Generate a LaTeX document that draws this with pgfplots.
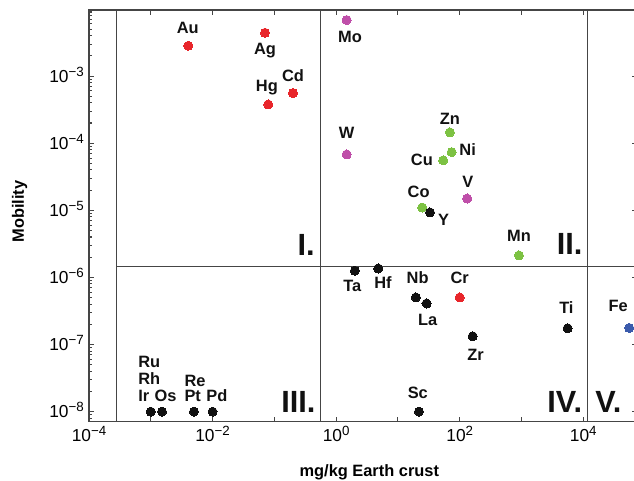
\documentclass[border=0pt]{standalone}
\usepackage{fontspec}
\setmainfont{Liberation Sans}
\usepackage{pgfplots}
\pgfplotsset{compat=1.18}

\definecolor{cred}{HTML}{E8262B}
\definecolor{cpur}{HTML}{BF4FA9}
\definecolor{cgrn}{HTML}{7DC243}
\definecolor{cblu}{HTML}{3B5BAC}
\definecolor{cblk}{HTML}{111111}
\definecolor{axgray}{HTML}{454545}

% tick label: 10 with a large raised exponent
\newcommand{\tl}[1]{\fontsize{13}{13}\selectfont 10\raisebox{4.5pt}{\fontsize{10}{10}\selectfont #1}}

\tikzset{
  lab/.style={font=\bfseries\fontsize{12.3}{12.3}\selectfont, text=cblk, inner sep=0pt},
  rom/.style={font=\bfseries\fontsize{23}{23}\selectfont, text=cblk, inner sep=0pt, anchor=base east},
}

\begin{document}
\begin{tikzpicture}
\useasboundingbox (-66.75pt,-43.7pt) rectangle (408.75pt,316.3pt);
\begin{axis}[
    at={(0,0)}, anchor=south west,
    scale only axis,
    width=411pt, height=308.8pt,
    xmode=log, ymode=log,
    xmin=1e-4, xmax=73960,
    ymin=7.08e-9, ymax=9.64e-3,
    xtick={1e-4,1e-3,1e-2,1e-1,1,10,100,1000,10000},
    xticklabels={\tl{−4},,\tl{−2},,\tl{0},,\tl{2},,\tl{4}},
    ytick={1e-8,1e-7,1e-6,1e-5,1e-4,1e-3},
    yticklabels={\tl{−8},\tl{−7},\tl{−6},\tl{−5},\tl{−4},\tl{−3}},
    minor ytick={8e-9,9e-9,
      2e-8,3e-8,4e-8,5e-8,6e-8,7e-8,8e-8,9e-8,
      2e-7,3e-7,4e-7,5e-7,6e-7,7e-7,8e-7,9e-7,
      2e-6,3e-6,4e-6,5e-6,6e-6,7e-6,8e-6,9e-6,
      2e-5,3e-5,4e-5,5e-5,6e-5,7e-5,8e-5,9e-5,
      2e-4,3e-4,4e-4,5e-4,6e-4,7e-4,8e-4,9e-4,
      2e-3,3e-3,4e-3,5e-3,6e-3,7e-3,8e-3,9e-3},
    xminorticks=false,
    tick align=inside,
    major tick length=3.5pt, minor tick length=2.2pt,
    axis line style={line width=1.1pt, color=axgray},
    tick style={line width=0.8pt, color=axgray},
    xticklabel style={anchor=base, inner sep=0pt, yshift=-15pt},
    yticklabel style={anchor=base east, inner sep=0pt, xshift=-3.7pt, yshift=-4.6pt},
    clip=false,
]
% region boundaries
\draw[axgray, line width=1.1pt] ({axis cs:2.806e-4,1e-8}|-{rel axis cs:0,0}) -- ({axis cs:2.806e-4,1e-8}|-{rel axis cs:0,1});
\draw[axgray, line width=1.1pt] ({axis cs:0.561,1e-8}|-{rel axis cs:0,0}) -- ({axis cs:0.561,1e-8}|-{rel axis cs:0,1});
\draw[axgray, line width=1.1pt] ({axis cs:11607,1e-8}|-{rel axis cs:0,0}) -- ({axis cs:11607,1e-8}|-{rel axis cs:0,1});
\draw[axgray, line width=1.1pt] ({axis cs:2.806e-4,1.445e-6}) -- ({axis cs:2.806e-4,1.445e-6}-|{rel axis cs:1,0});

% red
\addplot[only marks, mark=*, mark size=3.4pt, mark options={draw=cred, fill=cred, line width=0pt}]
  coordinates {(4.05e-3,2.83e-3) (0.0705,4.42e-3) (0.0796,3.78e-4) (0.2,5.58e-4) (100,5.04e-7)};
% purple
\addplot[only marks, mark=*, mark size=3.4pt, mark options={draw=cpur, fill=cpur, line width=0pt}]
  coordinates {(1.48,6.84e-3) (1.48,6.8e-5) (132,1.5e-5)};
% green
\addplot[only marks, mark=*, mark size=3.4pt, mark options={draw=cgrn, fill=cgrn, line width=0pt}]
  coordinates {(69.3,1.45e-4) (74,7.36e-5) (54,5.55e-5) (24.7,1.1e-5) (908,2.13e-6)};
% black
\addplot[only marks, mark=*, mark size=3.4pt, mark options={draw=cblk, fill=cblk, line width=0pt}]
  coordinates {(33,9.3e-6) (2.01,1.26e-6) (4.8,1.36e-6) (19.5,5.04e-7) (29,4.09e-7)
               (5570,1.75e-7) (162,1.33e-7) (21.9,1e-8)
               (1e-3,1e-8) (1.52e-3,1e-8) (5e-3,1e-8) (0.01,1e-8)};
% blue
\addplot[only marks, mark=*, mark size=3.4pt, mark options={draw=cblu, fill=cblu, line width=0pt}]
  coordinates {(55300,1.77e-7)};

% element labels
\node[lab, anchor=base, xshift=-0.4pt, yshift=9.3pt]  at (axis cs:4.05e-3,2.83e-3) {Au};
\node[lab, anchor=base, yshift=-16.2pt]               at (axis cs:0.0705,4.42e-3) {Ag};
\node[lab, anchor=base, xshift=-1pt, yshift=9.4pt]    at (axis cs:0.0796,3.78e-4) {Hg};
\node[lab, anchor=base, yshift=8.5pt]                 at (axis cs:0.2,5.58e-4) {Cd};
\node[lab, anchor=base, xshift=2.5pt, yshift=-16.7pt] at (axis cs:1.48,6.84e-3) {Mo};
\node[lab, anchor=base, yshift=12pt]                  at (axis cs:1.48,6.8e-5) {W};
\node[lab, anchor=base, yshift=6.2pt]                 at (axis cs:69.3,1.45e-4) {Zn};
\node[lab, anchor=base, xshift=12pt, yshift=-2.8pt]   at (axis cs:74,7.36e-5) {Ni};
\node[lab, anchor=base, xshift=-16pt, yshift=-4pt]    at (axis cs:54,5.55e-5) {Cu};
\node[lab, anchor=base, xshift=0.5pt, yshift=8pt]     at (axis cs:132,1.5e-5) {V};
\node[lab, anchor=base, xshift=-2.7pt, yshift=7.5pt]  at (axis cs:24.7,1.1e-5) {Co};
\node[lab, anchor=base, xshift=10.3pt, yshift=-9.5pt] at (axis cs:33,9.3e-6) {Y};
\node[lab, anchor=base, yshift=10.7pt]                at (axis cs:908,2.13e-6) {Mn};
\node[lab, anchor=base, xshift=-1.9pt, yshift=-15.7pt] at (axis cs:2.01,1.26e-6) {Ta};
\node[lab, anchor=base, xshift=3.5pt, yshift=-15pt]   at (axis cs:4.8,1.36e-6) {Hf};
\node[lab, anchor=base, xshift=1.3pt, yshift=10.5pt]  at (axis cs:19.5,5.04e-7) {Nb};
\node[lab, anchor=base, yshift=10.5pt]                at (axis cs:100,5.04e-7) {Cr};
\node[lab, anchor=base, xshift=0.8pt, yshift=-16.8pt] at (axis cs:29,4.09e-7) {La};
\node[lab, anchor=base, xshift=-0.9pt, yshift=11pt]   at (axis cs:5570,1.75e-7) {Ti};
\node[lab, anchor=base, xshift=2.1pt, yshift=-18pt]   at (axis cs:162,1.33e-7) {Zr};
\node[lab, anchor=base, xshift=-8.2pt, yshift=12.4pt] at (axis cs:55300,1.77e-7) {Fe};
\node[lab, anchor=base, xshift=-0.9pt, yshift=10pt]   at (axis cs:21.9,1e-8) {Sc};
\node[lab, anchor=base west, xshift=-9.5pt, yshift=32.8pt] at (axis cs:1e-3,1e-8) {Ru};
\node[lab, anchor=base west, xshift=-9.5pt, yshift=20.2pt] at (axis cs:1e-3,1e-8) {Rh};
\node[lab, anchor=base west, xshift=-9.5pt, yshift=7.3pt]  at (axis cs:1e-3,1e-8) {Ir};
\node[lab, anchor=base, xshift=2.6pt, yshift=7.3pt]        at (axis cs:1.52e-3,1e-8) {Os};
\node[lab, anchor=base west, xshift=-7.3pt, yshift=19pt]   at (axis cs:5e-3,1e-8) {Re};
\node[lab, anchor=base west, xshift=-7.3pt, yshift=7.3pt]  at (axis cs:5e-3,1e-8) {Pt};
\node[lab, anchor=base, xshift=3.2pt, yshift=7.3pt]        at (axis cs:0.01,1e-8) {Pd};

% region numerals
\node[rom] at (rel axis cs:0.4124,0.4049) {I.};
\node[rom] at (rel axis cs:0.9009,0.4074) {II.};
\node[rom] at (rel axis cs:0.4137,0.0219) {III.};
\node[rom] at (rel axis cs:0.9002,0.0236) {IV.};
\node[rom] at (rel axis cs:0.9721,0.0236) {V.};

% axis labels
\node[font=\bfseries\fontsize{12.3}{12.3}\selectfont, anchor=base, inner sep=0pt]
  at (rel axis cs:0.5115,-0.1319) {mg/kg Earth crust};
\node[font=\bfseries\fontsize{12.3}{12.3}\selectfont, rotate=90, anchor=center, inner sep=0pt]
  at (rel axis cs:-0.1268,0.5106) {Mobility};
\end{axis}
\end{tikzpicture}
\end{document}
